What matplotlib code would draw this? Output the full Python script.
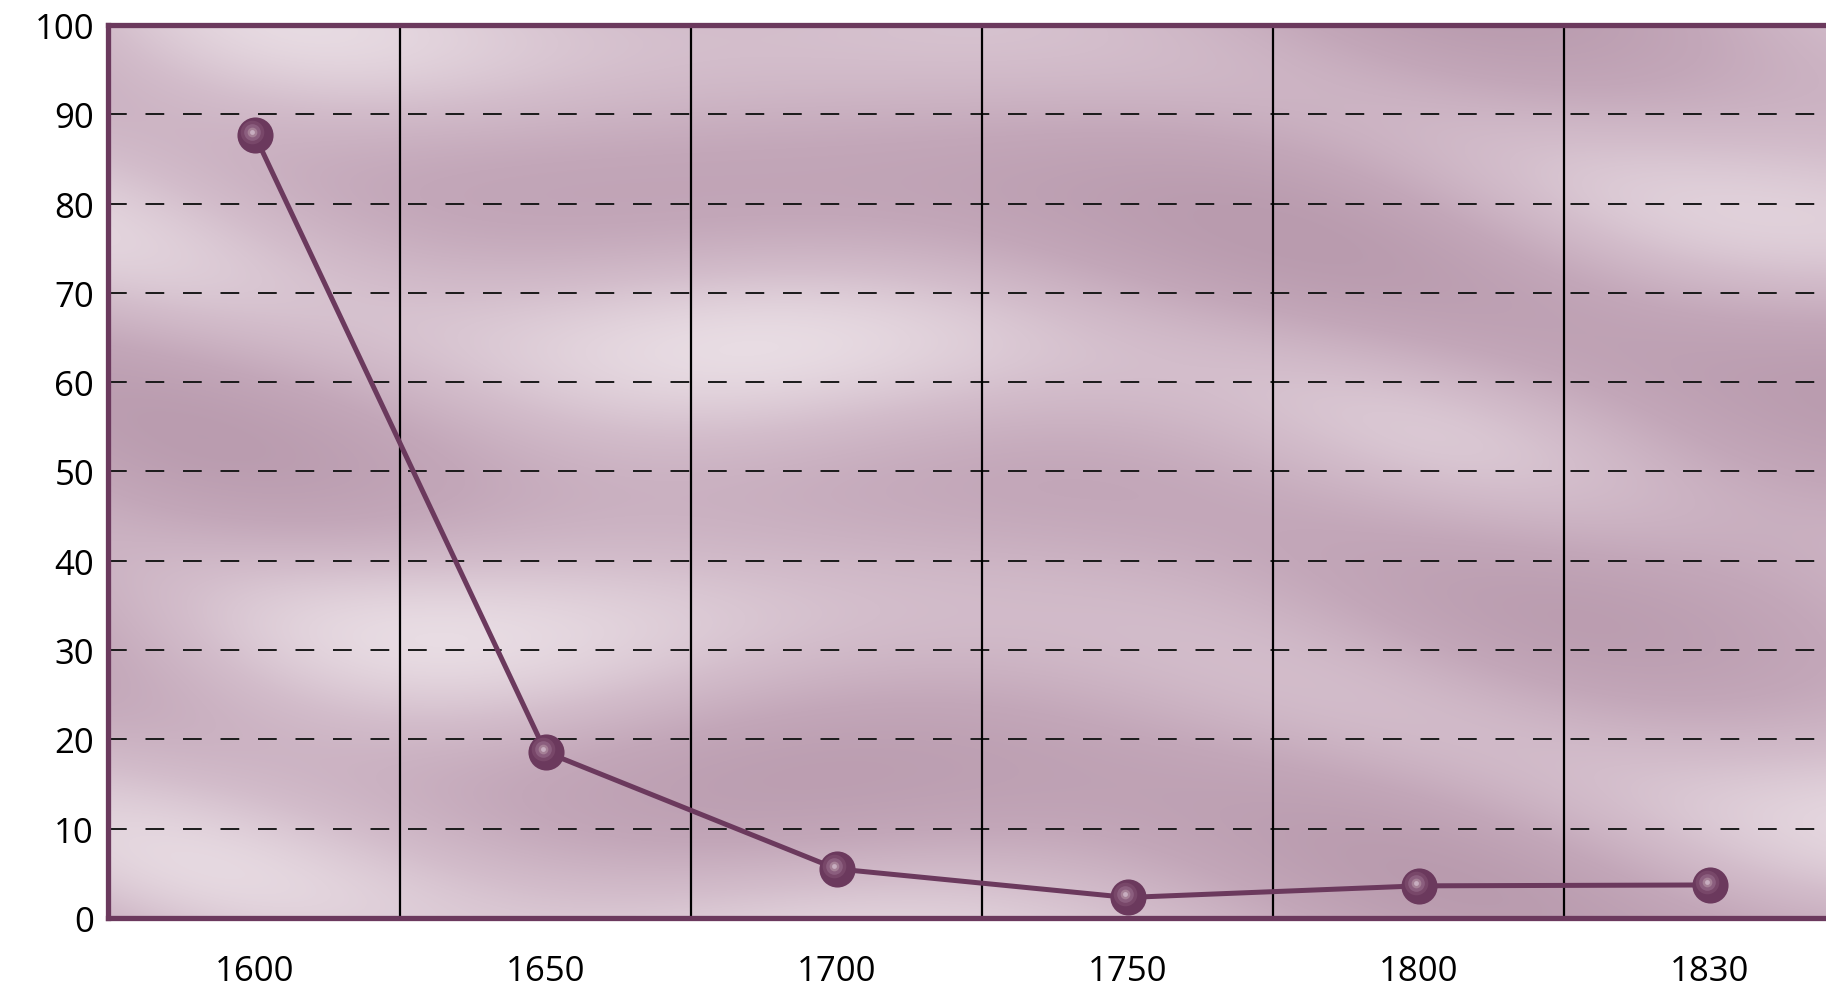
import numpy as np
import matplotlib.pyplot as plt
from matplotlib.colors import LinearSegmentedColormap
from matplotlib.transforms import offset_copy

plt.rcParams['font.family'] = ['Open Sans', 'DejaVu Sans']
plt.rcParams['lines.scale_dashes'] = False

years = ['1600', '1650', '1700', '1750', '1800', '1830']
values = [87.7, 18.6, 5.5, 2.3, 3.6, 3.7]
yticks = [0, 10, 20, 30, 40, 50, 60, 70, 80, 90, 100]

purple = '#6b395d'

fig = plt.figure(figsize=(18.26, 9.87), dpi=100)
ax = fig.add_axes([0.0591, 0.0689, 0.9409, 0.9048])

x = np.arange(len(years))
xlim = (-0.504, 5.40)
ax.set_xlim(*xlim)
ax.set_ylim(0, 100)

# soft mottled background, mostly horizontal streaks
gx, gy = np.meshgrid(np.linspace(0, 1, 400), np.linspace(0, 1, 220))
tex = (np.sin(gx * 6.0 + np.sin(gy * 9.0) * 1.3) * 0.35
       + np.sin(gy * 19.0 + gx * 5.0 + np.sin(gx * 8.0)) * 0.45
       + np.sin(gx * 13.0 - gy * 7.0 + 1.2) * 0.2)
tex = (tex - tex.min()) / (tex.max() - tex.min())
bg_cmap = LinearSegmentedColormap.from_list('bg', ['#b99bae', '#c3a7b9', '#d3bdcb', '#e8dce3'])
ax.imshow(tex, cmap=bg_cmap, extent=[xlim[0], xlim[1], 0, 100], aspect='auto',
          origin='lower', zorder=0, interpolation='bicubic')

for yv in yticks[1:-1]:
    ax.axhline(yv, color='#1a1a1a', lw=1.4, ls=(0, (13.5, 13.5)), zorder=1)
for xv in x[:-1] + 0.5:
    ax.axvline(xv, color='black', lw=1.6, zorder=1)

ax.plot(x, values, color=purple, lw=3.6, zorder=3, solid_capstyle='round')
ax.plot(x, values, 'o', ms=26, color=purple, mec='none', zorder=4)
hl = offset_copy(ax.transData, fig=fig, x=-3, y=3, units='dots')
for ms, c in [(17, '#784769'), (12, '#8b5e7e'), (7, '#a58096'), (3.5, '#c7adbf')]:
    ax.plot(x, values, 'o', ms=ms, color=c, mec='none', zorder=5, transform=hl)

ax.set_xticks(x)
ax.set_xticklabels(years)
ax.set_yticks(yticks)
ax.tick_params(axis='both', length=0, labelsize=25, colors='black')
ax.tick_params(axis='x', pad=26)
ax.tick_params(axis='y', pad=10)

for side in ['left', 'top', 'bottom']:
    ax.spines[side].set_color(purple)
    ax.spines[side].set_linewidth(3.8)
ax.spines['right'].set_visible(False)

fig.savefig('out.png', dpi=100)
